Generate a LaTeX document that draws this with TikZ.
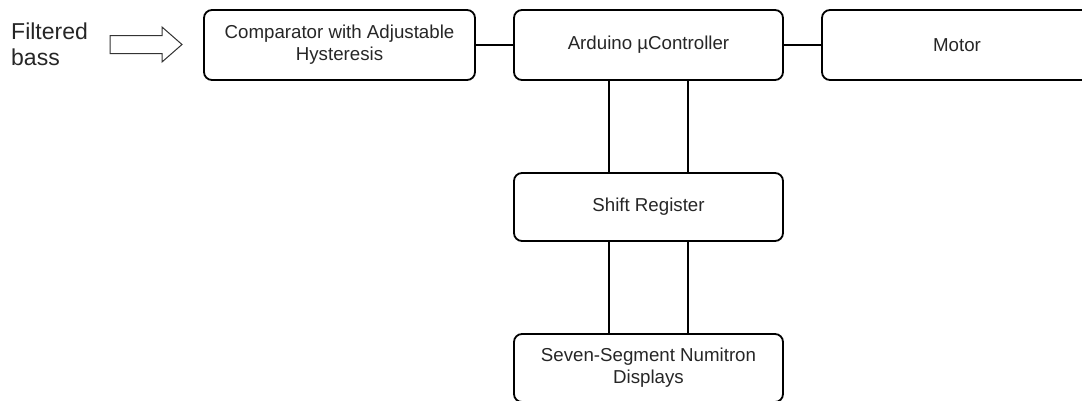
\documentclass[tikz,border=0pt]{standalone}
\usepackage{fontspec}
\setmainfont{Liberation Sans}
\usetikzlibrary{positioning}

\tikzset{
  block/.style={draw, rounded corners=8pt, line width=1.8pt, align=center,
    inner sep=0pt, font=\fontsize{18.7}{22}\selectfont, text=black!85},
  link/.style={line width=1.5pt},
}

\begin{document}
\begin{tikzpicture}[x=1pt,y=1pt,yscale=-1,xscale=1]
        \useasboundingbox (0,0) rectangle (1082,400);

        % Input label
        \node (bass) [anchor=west, align=left, inner sep=0pt, font=\fontsize{23}{26}\selectfont, text=black!85] at (11,44.5) {Filtered\\bass};

        % Blocks
        \node (comp)  [block, minimum width=271pt, minimum height=70pt] at (339.5,45) {Comparator with Adjustable\\Hysteresis};
        \node (ardu)  [block, minimum width=269pt, minimum height=70pt] at (648.5,45) {Arduino µController};
        % motor box runs past the right edge
        \node (motor) [block, minimum width=320pt, minimum height=70pt,
          label={[xshift=-25pt, font=\fontsize{18.7}{22}\selectfont, text=black!85]center:Motor}] at (982,45) {};
        \node (shift) [block, minimum width=269pt, minimum height=68pt] at (648.5,207) {Shift Register};
        \node (disp)  [block, minimum width=269pt, minimum height=68pt] at (648.5,368) {Seven-Segment Numitron\\Displays};

        % Hollow input arrow
        \draw [line width=1pt, black!80] (110,35.5) -- (162,35.5) -- (162,27) -- (182,44.5) -- (162,62) -- (162,53.5) -- (110,53.5) -- cycle;

        % Links
        \draw [link] (comp.east) -- (ardu.west);
        \draw [link] (ardu.east) -- (motor.west);
        \draw [link] ([xshift=-39.5pt]ardu.south) -- ([xshift=-39.5pt]shift.north);
        \draw [link] ([xshift=39.5pt]ardu.south) -- ([xshift=39.5pt]shift.north);
        \draw [link] ([xshift=-39.5pt]shift.south) -- ([xshift=-39.5pt]disp.north);
        \draw [link] ([xshift=39.5pt]shift.south) -- ([xshift=39.5pt]disp.north);

\end{tikzpicture}
\end{document}
